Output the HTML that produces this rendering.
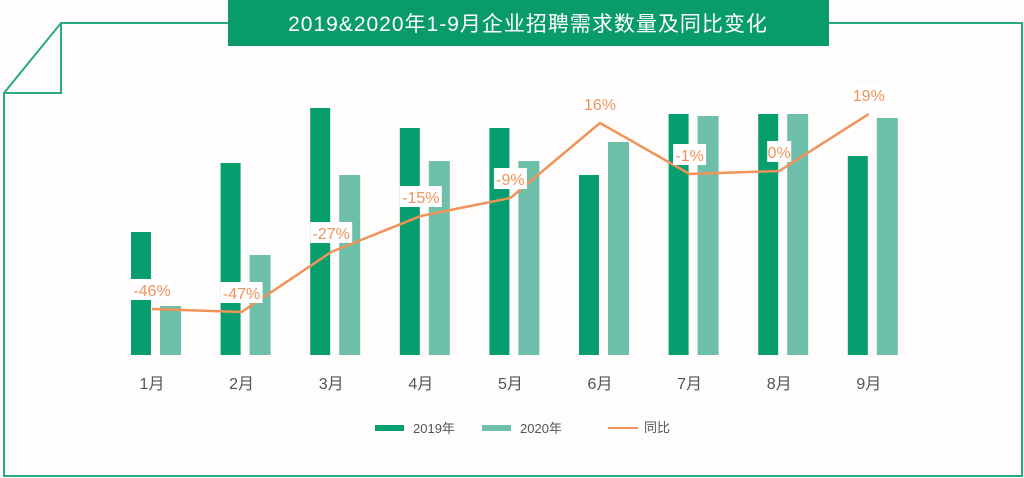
<!DOCTYPE html>
<html><head><meta charset="utf-8"><style>
body{margin:0;background:#fff;}
svg{display:block;font-family:"Liberation Sans","Noto Sans CJK SC",sans-serif;}
</style></head><body>
<svg width="1024" height="478" viewBox="0 0 1024 478">
<rect width="1024" height="478" fill="#fefdfc"/>
<g fill="none" stroke="#2aab7d" stroke-width="2">
<polyline points="228,23 61,23 4,93 4,476 1022,476 1022,23 829,23"/>
<polyline points="61,23 61,93 4,93"/>
</g>
<rect x="228" y="0" width="601" height="46" fill="#0a9b6c"/>
<text x="528" y="31" text-anchor="middle" font-size="21" letter-spacing="1" fill="#fff">2019&amp;2020年1-9月企业招聘需求数量及同比变化</text>
<g id="bars"></g>
<g id="line"></g>
<g id="labels"></g>
<g>
<rect x="375" y="425" width="29" height="6" fill="#069e6e"/>
<text x="413" y="433" font-size="13" fill="#555">2019年</text>
<rect x="482" y="425" width="29" height="6" fill="#6dbfa9"/>
<text x="520" y="433" font-size="13" fill="#555">2020年</text>
<line x1="608" y1="428" x2="638" y2="428" stroke="#f0935a" stroke-width="2"/>
<text x="644" y="432" font-size="13" fill="#555">同比</text>
</g>
</svg>
<script>
const categories=["1月","2月","3月","4月","5月","6月","7月","8月","9月"];
const values2019=[123,192,247,227,227,180,241,241,199];
const values2020=[49,100,180,194,194,213,239,241,237];
const yoy=[-46,-47,-27,-15,-9,16,-1,0,19];
const yoyLabels=["-46%","-47%","-27%","-15%","-9%","16%","-1%","0%","19%"];
const NS="http://www.w3.org/2000/svg";
const base=355;
function xC(i){return 152+i*89.6;}
function yBar(v){return base-v;}
function yLine(v){return 171-v*3.0;}
function mk(tag,attrs,parent){const e=document.createElementNS(NS,tag);for(const k in attrs)e.setAttribute(k,attrs[k]);parent.appendChild(e);return e;}
const gb=document.getElementById('bars'),gl=document.getElementById('line'),gt=document.getElementById('labels');
categories.forEach((c,i)=>{
  const x=xC(i);
  let r=mk('rect',{x:x-21,y:yBar(values2019[i]),width:20,height:base-yBar(values2019[i]),fill:'#069e6e'},gb);
  
  
  r=mk('rect',{x:x+8,y:yBar(values2020[i]),width:21,height:base-yBar(values2020[i]),fill:'#6dbfa9'},gb);
  
  
  const t=mk('text',{x:x,y:389,'text-anchor':'middle','font-size':16,fill:'#555'},gt);
  t.textContent=c;
  
  
});
const pl=mk('polyline',{points:yoy.map((v,i)=>xC(i)+','+yLine(v)).join(' '),fill:'none',stroke:'#f0935a','stroke-width':2.5},gl);


yoy.forEach((v,i)=>{
  const x=xC(i),y=yLine(v)-19;
  const w=yoyLabels[i].length*9+6;
  const bg=mk('rect',{x:x-w/2,y:y-11,width:w,height:21,fill:'#fff'},gt);
  
  
  const t=mk('text',{x:x,y:y+6,'text-anchor':'middle','font-size':16,fill:'#f0935a'},gt);
  t.textContent=yoyLabels[i];
  
  
});
</script>
</body></html>
